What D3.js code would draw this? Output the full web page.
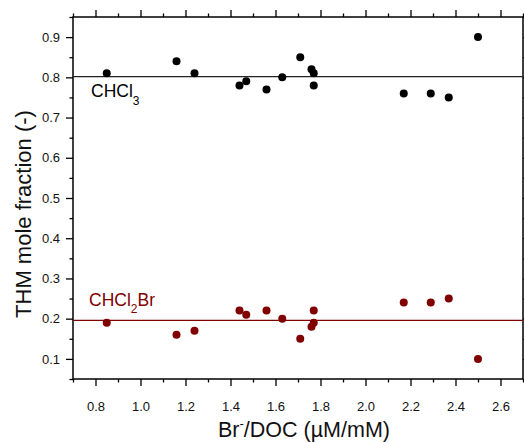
<!DOCTYPE html>
<html><head><meta charset="utf-8">
<script src="https://cdn.jsdelivr.net/npm/d3@7"></script>
<style>
body{margin:0;background:#fff}
text{font-family:"Liberation Sans",Arial,Helvetica,sans-serif}
</style>
</head><body>
<svg id="chart" width="524" height="442"></svg>
<script>
// Br-/DOC ratio (µM/mM) for each sample
const ratio   = [0.85, 1.16, 1.24, 1.44, 1.47, 1.56, 1.63, 1.71, 1.76, 1.77, 1.77, 2.17, 2.29, 2.37, 2.50];
// THM mole fractions per sample
const chcl3   = [0.81, 0.84, 0.81, 0.78, 0.79, 0.77, 0.80, 0.85, 0.82, 0.81, 0.78, 0.76, 0.76, 0.75, 0.90];
const chcl2br = [0.19, 0.16, 0.17, 0.22, 0.21, 0.22, 0.20, 0.15, 0.18, 0.19, 0.22, 0.24, 0.24, 0.25, 0.10];
const xTicks  = [0.8, 1.0, 1.2, 1.4, 1.6, 1.8, 2.0, 2.2, 2.4, 2.6];
const yTicks  = [0.1, 0.2, 0.3, 0.4, 0.5, 0.6, 0.7, 0.8, 0.9];

const svg = d3.select("#chart");
const L = 73, R = 523, T = 17, B = 379;
const x = d3.scaleLinear().domain([0.7, 2.7]).range([L, R]);
const y = d3.scaleLinear().domain([0.05, 0.95]).range([B, T]);

const xMinor = d3.range(7, 28).map(d => d / 10).filter(v => !xTicks.some(t => Math.abs(t - v) < 1e-9));
const yMinor = d3.range(1, 20).map(d => d / 20).filter(v => !yTicks.some(t => Math.abs(t - v) < 1e-9));

const fmt = d3.format(".1f");
const MAJ = 7, MIN = 3.5;

function styleAxis(g) {
  g.select(".domain").remove();
  g.selectAll(".tick line").attr("stroke", "#000").attr("stroke-width", 1.3);
  g.selectAll(".tick text").attr("fill", "#111").style("font-size", "13px")
    .style("font-family", '"Liberation Sans",Arial,sans-serif');
}

// bottom axis
svg.append("g").attr("transform", `translate(0,${B})`)
  .call(d3.axisBottom(x).tickValues(xTicks).tickFormat(fmt).tickSize(MAJ).tickPadding(16))
  .call(styleAxis);
svg.append("g").attr("transform", `translate(0,${B})`)
  .call(d3.axisBottom(x).tickValues(xMinor).tickFormat("").tickSize(MIN))
  .call(styleAxis);
// top axis
svg.append("g").attr("transform", `translate(0,${T})`)
  .call(d3.axisTop(x).tickValues(xTicks).tickFormat("").tickSize(MAJ))
  .call(styleAxis);
svg.append("g").attr("transform", `translate(0,${T})`)
  .call(d3.axisTop(x).tickValues(xMinor).tickFormat("").tickSize(MIN))
  .call(styleAxis);
// left axis
svg.append("g").attr("transform", `translate(${L},0)`)
  .call(d3.axisLeft(y).tickValues(yTicks).tickFormat(fmt).tickSize(MAJ).tickPadding(6))
  .call(styleAxis);
svg.append("g").attr("transform", `translate(${L},0)`)
  .call(d3.axisLeft(y).tickValues(yMinor).tickFormat("").tickSize(MIN))
  .call(styleAxis);
// right axis
svg.append("g").attr("transform", `translate(${R},0)`)
  .call(d3.axisRight(y).tickValues(yTicks).tickFormat("").tickSize(MAJ))
  .call(styleAxis);
svg.append("g").attr("transform", `translate(${R},0)`)
  .call(d3.axisRight(y).tickValues(yMinor).tickFormat("").tickSize(MIN))
  .call(styleAxis);

// plot frame
svg.append("rect").attr("x", L).attr("y", T).attr("width", R - L).attr("height", B - T)
  .attr("fill", "none").attr("stroke", "#000").attr("stroke-width", 1.5);

const series = [
  { name: "CHCl3", values: chcl3, color: "#000000", lineColor: "#222" },
  { name: "CHCl2Br", values: chcl2br, color: "#800000", lineColor: "#800000" }
];

// mean lines
series.forEach(s => {
  const m = d3.mean(s.values);
  svg.append("line").attr("x1", L).attr("x2", R).attr("y1", y(m)).attr("y2", y(m))
    .attr("stroke", s.lineColor).attr("stroke-width", 1.2);
});

// sample points
series.forEach(s => {
  svg.append("g").selectAll("circle").data(s.values).join("circle")
    .attr("cx", (d, i) => x(ratio[i])).attr("cy", d => y(d)).attr("r", 4)
    .attr("fill", s.color);
});

// series labels
const lab1 = svg.append("text").attr("x", 91).attr("y", 97).attr("fill", "#000").style("font-size", "17.5px");
lab1.append("tspan").text("CHCl");
lab1.append("tspan").attr("dy", 8).style("font-size", "12px").text("3");

const lab2 = svg.append("text").attr("x", 89).attr("y", 306).attr("fill", "#800000").style("font-size", "17.5px");
lab2.append("tspan").text("CHCl");
lab2.append("tspan").attr("dy", 7).style("font-size", "12px").text("2");
lab2.append("tspan").attr("dy", -7).text("Br");

// axis titles
const xt = svg.append("text").attr("x", 304).attr("y", 437).attr("text-anchor", "middle")
  .attr("fill", "#111").style("font-size", "21.5px");
xt.append("tspan").text("Br");
xt.append("tspan").attr("dy", -9).style("font-size", "13px").text("-");
xt.append("tspan").attr("dy", 9).text("/DOC (\u00b5M/mM)");

svg.append("text").attr("transform", "translate(31,214) rotate(-90)").attr("text-anchor", "middle")
  .attr("fill", "#111").style("font-size", "22px").text("THM mole fraction (-)");
</script>
</body></html>
